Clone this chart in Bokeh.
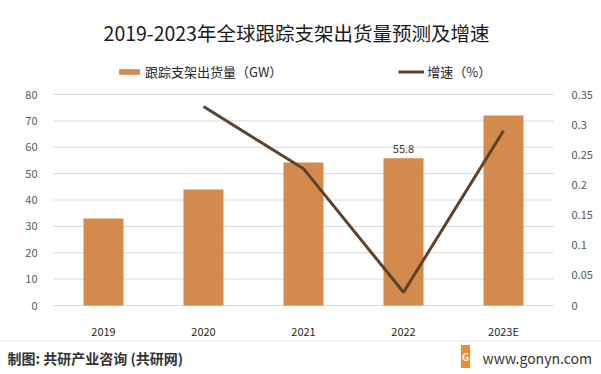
from bokeh.plotting import figure
from bokeh.models import (ColumnDataSource, Range1d, LinearAxis, FixedTicker,
                          CustomJSTickFormatter, Label, Legend, LegendItem, BoxAnnotation)
from bokeh.core.properties import value
from bokeh.embed import file_html
from bokeh.resources import INLINE

# ---- data ----
years = ["2019", "2020", "2021", "2022", "2023E"]
shipments = [33.0, 44.0, 54.2, 55.8, 72.0]          # 跟踪支架出货量 (GW)
growth_years = ["2020", "2021", "2022", "2023E"]
growth = [0.33, 0.227, 0.022, 0.29]                  # 增速
left_ticks = [0, 10, 20, 30, 40, 50, 60, 70, 80]
right_ticks = [0, 0.05, 0.1, 0.15, 0.2, 0.25, 0.3, 0.35]
labeled_year = "2022"

title_text = "2019-2023年全球跟踪支架出货量预测及增速"
bar_name = "跟踪支架出货量（GW）"
line_name = "增速（%）"
footer_left = "制图: 共研产业咨询 (共研网)"
footer_right = "www.gonyn.com"

# ---- layout constants (pixels) ----
W, H = 601, 374
PLOT_L, PLOT_R = 53, 553      # plot area left/right edge
PLOT_T, PLOT_B = 94, 305      # plot area top/bottom edge
FONT = "Noto Sans CJK SC"
BAR_C = "#D38B4D"
LINE_C = "#5E4229"
GRID_C = "#D9D9D9"

n = len(years)
xpx = (PLOT_R - PLOT_L) / n                       # px per category
ypx = (PLOT_B - PLOT_T) / (left_ticks[-1] - left_ticks[0])
rpx = (PLOT_B - PLOT_T) / (right_ticks[-1] - right_ticks[0])
x0 = -0.5 - PLOT_L / xpx
x1 = x0 + W / xpx
y_lo = left_ticks[0] - (H - PLOT_B) / ypx
y_hi = left_ticks[0] + PLOT_B / ypx
r_lo = right_ticks[0] - (H - PLOT_B) / rpx
r_hi = right_ticks[0] + PLOT_B / rpx

p = figure(width=W, height=H, title=None, x_range=Range1d(x0, x1), y_range=Range1d(y_lo, y_hi),
           output_backend="svg", toolbar_location=None,
           min_border=0, min_border_left=0, min_border_right=0, min_border_top=0, min_border_bottom=0)
p.outline_line_color = None
p.background_fill_color = "white"
p.border_fill_color = "white"
p.xgrid.visible = False
p.ygrid.visible = False
p.extra_y_ranges = {"growth": Range1d(r_lo, r_hi)}

xs = list(range(n))
# gridlines at the left-axis ticks, across the category span
p.segment(x0=[-0.5] * len(left_ticks), x1=[n - 0.5] * len(left_ticks),
          y0=left_ticks, y1=left_ticks, line_color=GRID_C, line_width=1)

bars = p.vbar(x=xs, top=shipments, width=0.4, fill_color=BAR_C, line_color=None)
gx = [years.index(g) for g in growth_years]
line = p.line(x=gx, y=growth, y_range_name="growth", line_color=LINE_C, line_width=3)

i = years.index(labeled_year)
lab_src = ColumnDataSource(dict(x=[i], y=[shipments[i]], t=[f"{shipments[i]:g}"]))
p.text(x="x", y="y", text="t", source=lab_src, text_align="center", text_baseline="bottom",
       y_offset=-5, text_font_size="11px", text_color="#404040", text_font=value(FONT))

# axes
ya = p.yaxis[0]
ya.fixed_location = -0.5
ya.ticker = FixedTicker(ticks=left_ticks)
rax = LinearAxis(y_range_name="growth", ticker=FixedTicker(ticks=right_ticks),
                 formatter=CustomJSTickFormatter(code="return tick.toFixed(2).replace(/\\.?0+$/, '');"))
rax.fixed_location = n - 0.5
p.add_layout(rax, "right")
for ax, st in ((ya, 10), (rax, 12)):
    ax.axis_line_color = None
    ax.major_tick_line_color = None
    ax.minor_tick_line_color = None
    ax.major_label_text_color = "#595959"
    ax.major_label_text_font_size = "11px"
    ax.major_label_text_font = FONT
    ax.major_label_standoff = st

xa = p.xaxis[0]
xa.fixed_location = left_ticks[0]
xa.ticker = FixedTicker(ticks=xs)
xa.major_label_overrides = {k: years[k] for k in xs}
xa.axis_line_color = None
xa.major_tick_line_color = None
xa.minor_tick_line_color = None
xa.major_label_text_color = "#262626"
xa.major_label_text_font_size = "11px"
xa.major_label_text_font = FONT
xa.major_label_standoff = 11

# legend
legend = Legend(items=[LegendItem(label=bar_name, renderers=[bars]),
                       LegendItem(label=line_name, renderers=[line])],
                orientation="horizontal", location=(116, 293), spacing=116,
                padding=0, margin=0, glyph_width=26, glyph_height=7, label_standoff=3,
                border_line_color=None, background_fill_alpha=0,
                label_text_font_size="13px", label_text_font=FONT, label_text_color="#262626")
p.add_layout(legend, "center")

# title (screen units: x from left, y from bottom)
p.add_layout(Label(x=296, y=H - 32, x_units="screen", y_units="screen", text=title_text,
                   text_align="center", text_baseline="middle", text_font_size="19.5px",
                   text_font=FONT, text_color="#1A1A1A"))

# footer
p.add_layout(BoxAnnotation(left=0, right=W, bottom=H - 341, top=H - 340,
                           left_units="screen", right_units="screen",
                           bottom_units="screen", top_units="screen",
                           fill_color="#E6E6E6", fill_alpha=1, line_color=None))
p.add_layout(Label(x=7, y=H - 357, x_units="screen", y_units="screen", text=footer_left,
                   text_align="left", text_baseline="middle", text_font_size="14px",
                   text_font_style="bold", text_font=FONT, text_color="#333333"))
p.add_layout(Label(x=465, y=H - 356, x_units="screen", y_units="screen", text="G",
                   text_align="center", text_baseline="middle", text_font_size="10px",
                   text_font_style="bold", text_font=FONT, text_color="white",
                   background_fill_color="#F28A30", padding=(1, 4)))
p.add_layout(Label(x=482, y=H - 357, x_units="screen", y_units="screen", text=footer_right,
                   text_align="left", text_baseline="middle", text_font_size="14px",
                   text_font=FONT, text_color="#333333"))

open("out.html", "w").write(file_html(p, INLINE))
